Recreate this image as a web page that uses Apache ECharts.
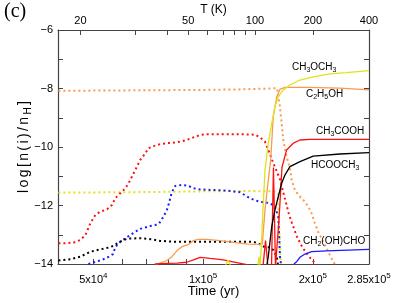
<!DOCTYPE html>
<html><head><meta charset="utf-8">
<script src="https://cdn.jsdelivr.net/npm/echarts@6/dist/echarts.min.js"></script>
<style>html,body{margin:0;padding:0;background:#fff}#c{width:399px;height:303px}</style>
</head><body><div id="c"></div>
<script>
// ---- Data: time (yr) and log[n(i)/nH] ----
// Ice (dotted)
const tC2H5OHice = [40100, 52300, 71600, 98100, 126300, 152500, 159400, 160700, 162400, 164200, 165900, 169400, 173000, 174900, 178500, 184300, 190200, 194200, 198400, 202500, 206800, 213400, 220300, 227300, 229700];
const vC2H5OHice = [-8.08, -8.07, -8.06, -8.05, -8.03, -8.00, -7.99, -8.22, -8.62, -9.19, -9.76, -10.33, -10.73, -11.13, -11.47, -11.70, -11.87, -12.04, -12.27, -12.61, -12.90, -13.24, -13.58, -13.92, -14.0];

const tCH3OCH3ice = [40100, 71600, 126300, 158400, 160400, 161400, 162400, 163500];
const vCH3OCH3ice = [-11.56, -11.54, -11.50, -11.52, -11.60, -12.50, -13.50, -14.0];

const tCH3COOHice = [40100, 41900, 44080, 46070, 47550, 49070, 50640, 52260, 54520, 56260, 57440, 59280, 61180, 62460, 63810, 65850, 67240, 69390, 70850, 73120, 76270, 79560, 82930, 86510, 90240, 94080, 98130, 102400, 126300, 138800, 143200, 147800, 150900, 154500, 159400, 162400, 165500, 168700, 171900, 175200, 180800, 187800, 193800, 198700, 203800];
const vCH3COOHice = [-13.29, -13.29, -13.27, -13.18, -13.01, -12.61, -12.32, -12.21, -12.13, -11.98, -11.75, -11.58, -11.41, -11.24, -11.01, -10.67, -10.44, -10.22, -10.04, -9.97, -9.90, -9.87, -9.85, -9.82, -9.76, -9.67, -9.59, -9.56, -9.56, -9.58, -9.67, -9.82, -10.10, -10.44, -10.85, -11.10, -11.50, -11.90, -12.30, -12.60, -13.07, -13.46, -13.69, -13.86, -14.0];

const tCH2OHCHOice = [48460, 50640, 53260, 54960, 56610, 57440, 59280, 61180, 63130, 65150, 67240, 69390, 71610, 73900, 75790, 77870, 79560, 80360, 82100, 83830, 87440, 91150, 94080, 98130, 106500, 116300, 126300, 134500, 138800, 143200, 152500, 157400, 160700, 161700, 162400, 163500];
const vCH2OHCHOice = [-14.0, -13.93, -13.84, -13.76, -13.66, -13.42, -13.24, -13.12, -13.01, -12.90, -12.80, -12.75, -12.70, -12.67, -12.61, -12.38, -12.15, -11.98, -11.54, -11.33, -11.30, -11.33, -11.41, -11.45, -11.47, -11.49, -11.55, -11.75, -11.82, -11.87, -11.92, -12.04, -12.38, -13.07, -13.75, -14.0];

const tHCOOCH3ice = [40100, 43260, 46070, 49070, 52260, 54960, 56720, 58540, 60410, 62340, 67240, 71610, 76270, 83830, 98130, 126300, 137000, 141400, 147800, 152500, 155700, 159200, 160400];
const vHCOOCH3ice = [-13.88, -13.84, -13.75, -13.58, -13.50, -13.44, -13.38, -13.27, -13.18, -13.13, -13.12, -13.15, -13.21, -13.24, -13.24, -13.24, -13.24, -13.29, -13.43, -13.43, -13.52, -13.75, -14.0];

// Gas (solid)
const tCH3OCH3 = [71610, 114900, 117100, 119300, 140500, 142300, 143200, 144100, 145900, 147800, 150900, 154200, 157400, 160700, 165900, 173000, 184300, 200400, 222600, 247300, 285000];
const vCH3OCH3 = [-14.3, -14.1, -13.86, -14.1, -14.3, -13.75, -14.1, -13.6, -12.15, -10.79, -9.87, -9.19, -8.62, -8.28, -8.05, -7.88, -7.71, -7.60, -7.50, -7.46, -7.39];

const tC2H5OH = [71610, 74700, 79560, 82100, 84730, 87440, 90570, 92130, 94080, 97080, 102400, 111300, 121000, 133000, 143200, 145300, 147800, 150900, 153200, 155700, 159200, 162400, 167600, 192200, 237100, 285000];
const vC2H5OH = [-14.3, -14.0, -13.88, -13.75, -13.55, -13.41, -13.35, -13.29, -13.20, -13.16, -13.16, -13.20, -13.26, -13.32, -13.33, -13.32, -12.15, -11.13, -10.44, -8.96, -8.28, -8.03, -7.96, -7.96, -7.99, -8.05];

const tCH3COOH = [71610, 73900, 79560, 84730, 90240, 94080, 98130, 104500, 113600, 123700, 131700, 136200, 145900, 148300, 150600, 154000, 155900, 157900, 159900, 161400, 163000, 164500, 169400, 176700, 184300, 196200, 285000];
const vCH3COOH = [-14.3, -14.0, -13.98, -13.97, -13.94, -13.86, -13.77, -13.81, -13.86, -13.95, -14.02, -14.3, -14.1, -13.2, -14.1, -14.1, -10.7, -14.1, -14.1, -12.5, -11.6, -10.7, -10.10, -9.87, -9.76, -9.74, -9.74];

const tHCOOCH3 = [149700, 150900, 154200, 157400, 160700, 164200, 167600, 173000, 184300, 200400, 237100, 285000];
const vHCOOCH3 = [-14.0, -13.75, -12.72, -12.15, -11.70, -11.24, -10.96, -10.67, -10.50, -10.31, -10.24, -10.19];

const tCH2OHCHO = [177400, 180500, 184300, 190200, 198400, 218000, 285000];
const vCH2OHCHO = [-14.0, -13.92, -13.77, -13.66, -13.58, -13.55, -13.50];

// Axis ticks / labels
const timeMin = 40000, timeMax = 285000;
const timeTickValues = [50000, 60000, 70000, 80000, 90000, 100000, 200000];
const timeLabelValues = [50000, 100000, 200000, 285000];
const timeLabelMant = ['5', '1', '2', '2.85'];
const timeLabelExp = ['4', '5', '5', '5'];
// Temperature scale (top axis): time at which each temperature is reached
const tempTickTimes = [46070, 65150, 79710, 90980, 102550, 113430, 121600, 130300, 138770, 200000, 285000];
const tempTickLabels = ['20', '30', '40', '50', '60', '70', '80', '90', '100', '200', '400'];
const tempLabelShown = ['20', '50', '100', '200', '400'];

// ---- Build chart ----
const L = Math.log10;
const pts = (t, v) => t.map((x, i) => [L(x), v[i]]);
const FONT = 'Liberation Sans, Arial, Helvetica, sans-serif';
const AX = '#444';

const tempLabelTimes = tempTickTimes.filter((t, i) => tempLabelShown.includes(tempTickLabels[i]));

function findIdx(arr, v) {
  let best = 0, d = 1e9;
  arr.forEach((t, i) => { const dd = Math.abs(L(t) - v); if (dd < d) { d = dd; best = i; } });
  return best;
}

const dotted = [2, 3];
function line(name, t, v, color, isIce) {
  return {
    name, type: 'line', data: pts(t, v), showSymbol: false, symbol: 'none',
    clip: true, silent: true, animation: false,
    z: isIce ? 2 : 3,
    lineStyle: { color, width: isIce ? 2 : 1.3, type: isIce ? dotted : 'solid', cap: 'butt' }
  };
}

const YEL = '#e2e21a', ORA = '#fa9a50', RED = '#ff1010', BLU = '#1a1aff', BLK = '#000000';

const series = [
  line('C2H5OH ice', tC2H5OHice, vC2H5OHice, ORA, true),
  line('CH3OCH3 ice', tCH3OCH3ice, vCH3OCH3ice, YEL, true),
  line('CH3COOH ice', tCH3COOHice, vCH3COOHice, RED, true),
  line('CH2(OH)CHO ice', tCH2OHCHOice, vCH2OHCHOice, BLU, true),
  line('HCOOCH3 ice', tHCOOCH3ice, vHCOOCH3ice, BLK, true),
  line('C2H5OH', tC2H5OH, vC2H5OH, ORA, false),
  line('CH3COOH', tCH3COOH, vCH3COOH, RED, false),
  line('HCOOCH3', tHCOOCH3, vHCOOCH3, BLK, false),
  line('CH2(OH)CHO', tCH2OHCHO, vCH2OHCHO, BLU, false),
  line('CH3OCH3', tCH3OCH3, vCH3OCH3, YEL, false)
];

const richLbl = {
  n: { fontSize: 10, lineHeight: 13, fontFamily: FONT, color: '#000' },
  s: { fontSize: 7, lineHeight: 7, verticalAlign: 'bottom', fontFamily: FONT, color: '#000' }
};
function species(text, x, y) {
  return { type: 'text', x, y, silent: true, z: 10,
    style: { text, rich: richLbl, verticalAlign: 'middle', align: 'left', fill: '#000' } };
}

// y-axis title, letter-spaced like the original plotting font
const yTitleMain = 'log[n(i)/n', yTitleSub = 'H', yTitleEnd = ']';
const yTitle = yTitleMain.split('').map(c => '{n|' + c + '}').join('') + '{s|' + yTitleSub + '}' + '{n|' + yTitleEnd + '}';

const chart = echarts.init(document.getElementById('c'), null, { renderer: 'canvas' });
chart.setOption({
  animation: false,
  backgroundColor: '#fff',
  grid: { left: 58, right: 30, top: 30, bottom: 39, containLabel: false, outerBoundsMode: 'none' },
  xAxis: [
    {
      type: 'value', position: 'bottom', min: L(timeMin), max: L(timeMax),
      splitLine: { show: false },
      axisLine: { show: true, onZero: false, lineStyle: { color: AX, width: 1.2 } },
      axisTick: { show: true, inside: true, length: 5, lineStyle: { color: AX }, customValues: timeTickValues.map(L) },
      axisLabel: {
        show: true, margin: 8, customValues: timeLabelValues.map(L),
        formatter: v => { const i = findIdx(timeLabelValues, v); return '{n|' + timeLabelMant[i] + 'x10}{s|' + timeLabelExp[i] + '}'; },
        rich: {
          n: { fontSize: 11, lineHeight: 15, fontFamily: FONT, color: '#000' },
          s: { fontSize: 8, lineHeight: 8, verticalAlign: 'top', fontFamily: FONT, color: '#000' }
        }
      },
      name: 'Time (yr)', nameLocation: 'middle', nameGap: 21, nameMoveOverlap: false,
      nameTextStyle: { fontSize: 13, fontFamily: FONT, color: '#000' }
    },
    {
      type: 'value', position: 'top', min: L(timeMin), max: L(timeMax),
      splitLine: { show: false },
      axisLine: { show: true, onZero: false, lineStyle: { color: AX, width: 1.2 } },
      axisTick: { show: true, inside: true, length: 5, lineStyle: { color: AX }, customValues: tempTickTimes.map(L) },
      axisLabel: {
        show: true, margin: 4, customValues: tempLabelTimes.map(L),
        formatter: v => tempTickLabels[findIdx(tempTickTimes, v)],
        fontSize: 11, fontFamily: FONT, color: '#000'
      },
      name: 'T (K)', nameLocation: 'middle', nameGap: 14, nameMoveOverlap: false,
      nameTextStyle: { fontSize: 12, fontFamily: FONT, color: '#000' }
    }
  ],
  yAxis: [
    {
      type: 'value', position: 'left', min: -14, max: -6, interval: 2,
      splitLine: { show: false },
      axisLine: { show: true, onZero: false, lineStyle: { color: AX, width: 1.2 } },
      axisTick: { show: true, inside: true, length: 5, lineStyle: { color: AX } },
      minorTick: { show: true, splitNumber: 2, length: 5, lineStyle: { color: AX } },
      axisLabel: { margin: 5, fontSize: 11, fontFamily: FONT, color: '#000',
        formatter: v => (v < 0 ? '\u2212' : '') + Math.abs(v) },
      name: yTitle, nameLocation: 'middle', nameGap: 25, nameMoveOverlap: false,
      nameTextStyle: {
        rich: {
          n: { fontSize: 14, lineHeight: 18, padding: [0, 1.2, 0, 1.2], fontFamily: FONT, color: '#000' },
          s: { fontSize: 10, lineHeight: 10, padding: [0, 1.2, 0, 1.2], verticalAlign: 'bottom', fontFamily: FONT, color: '#000' }
        }
      }
    },
    {
      type: 'value', position: 'right', min: -14, max: -6, interval: 2,
      splitLine: { show: false },
      axisLine: { show: true, onZero: false, lineStyle: { color: AX, width: 1.2 } },
      axisTick: { show: true, inside: true, length: 5, lineStyle: { color: AX } },
      minorTick: { show: true, splitNumber: 2, length: 5, lineStyle: { color: AX } },
      axisLabel: { show: false }
    }
  ],
  series,
  graphic: [
    { type: 'text', x: 4, y: 2, silent: true,
      style: { text: '(c)', font: '20px "Liberation Serif", "Times New Roman", serif', fill: '#000' } },
    species('{n|CH}{s|3}{n|OCH}{s|3}', 292, 67),
    species('{n|C}{s|2}{n|H}{s|5}{n|OH}', 306, 94),
    species('{n|CH}{s|3}{n|COOH}', 316, 131),
    species('{n|HCOOCH}{s|3}', 311, 165),
    species('{n|CH}{s|2}{n|(OH)CHO}', 303, 241)
  ]
});
</script></body></html>
